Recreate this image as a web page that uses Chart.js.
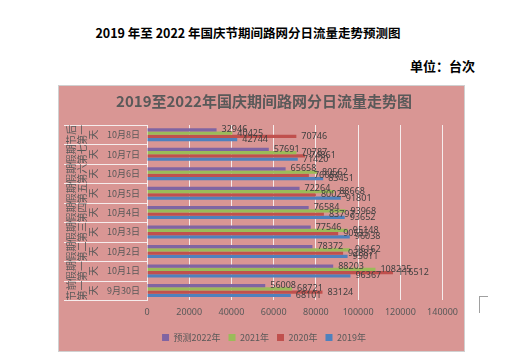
<!DOCTYPE html>
<html><head><meta charset="utf-8">
<script src="https://cdn.jsdelivr.net/npm/chart.js@4"></script>
<style>
html,body{margin:0;padding:0;background:#fff;width:529px;height:362px;overflow:hidden;}
#t1{position:absolute;left:0;width:496px;top:23px;text-align:center;font:bold 12.5px 'Noto Sans CJK SC',sans-serif;color:#000;white-space:nowrap;}
#t2{position:absolute;left:410px;top:56px;font:bold 13px 'Noto Sans CJK SC',sans-serif;color:#000;}
#box{position:absolute;left:58px;top:85px;width:407px;height:267px;background:#D99694;border:1px solid #D0D0D0;box-sizing:border-box;}
#c{position:absolute;left:58px;top:85px;}
#mark{position:absolute;left:479px;top:296px;width:8px;height:16px;border-left:1px solid #A0A0A0;border-top:1px solid #A0A0A0;}
</style></head>
<body>
<div id="t1">2019 年至 2022 年国庆节期间路网分日流量走势预测图</div>
<div id="t2">单位：台次</div>
<div id="box"></div>
<canvas id="c" width="407" height="267"></canvas>
<div id="mark"></div>
<script>
const categories = ['10月8日','10月7日','10月6日','10月5日','10月4日','10月3日','10月2日','10月1日','9月30日'];
const groups = ['节后第一天','假期第七天','假期第六天','假期第五天','假期第四天','假期第三天','假期第二天','假期第一天','节前第一天'];
const seriesNames = ['预测2022年','2021年','2020年','2019年'];
const v2022 = [32946,57691,65658,72264,76584,77546,78372,88203,56008];
const v2021 = [40425,70787,80562,88668,93968,95148,96162,108225,68721];
const v2020 = [70746,74861,76684,80023,83797,90555,92887,116512,83124];
const v2019 = [42744,71420,83451,91801,93652,96038,95011,96367,68101];
const xTicks = [0,20000,40000,60000,80000,100000,120000,140000];
const colors = ['#8064A2','#9BBB59','#C0504D','#4F81BD'];
const FONT = "'Noto Sans CJK SC','Noto Sans',sans-serif";
const GRID = 'rgba(248,240,240,0.95)';

const labelPlugin = {
  id:'labels',
  afterDatasetsDraw(chart){
    const ctx = chart.ctx;
    ctx.save();
    ctx.font = "9px 'Noto Sans',sans-serif";
    ctx.fillStyle = '#404040';
    ctx.textBaseline = 'middle';
    ctx.textAlign = 'left';
    chart.data.datasets.forEach((ds,i)=>{
      const meta = chart.getDatasetMeta(i);
      meta.data.forEach((el,j)=>{
        ctx.fillText(String(ds.data[j]), el.x + 5, el.y);
      });
    });
    ctx.restore();
  }
};
const groupPlugin = {
  id:'groups',
  afterDraw(chart){
    const ctx = chart.ctx;
    const ys = chart.scales.y;
    const area = chart.chartArea;
    const n = categories.length;
    const step = (area.bottom - area.top)/n;
    ctx.save();
    ctx.strokeStyle = GRID;
    ctx.lineWidth = 1;
    for(let i=0;i<=n;i++){
      const y = Math.round(area.top + i*step)+0.5;
      ctx.beginPath(); ctx.moveTo(6,y); ctx.lineTo(area.left,y); ctx.stroke();
    }
    ctx.fillStyle = '#595959';
    ctx.font = "10px " + FONT;
    ctx.textAlign = 'center';
    ctx.textBaseline = 'middle';
    const xs = [13, 24, 35];
    groups.forEach((g,i)=>{
      const cy = ys.getPixelForTick(i);
      const parts = [g.slice(0,2), g.slice(2,4), g.slice(4)];
      parts.forEach((p,k)=>{
        ctx.save();
        ctx.translate(xs[k], cy);
        ctx.rotate(-Math.PI/2);
        ctx.fillText(p, 0, 0);
        ctx.restore();
      });
    });
    ctx.restore();
  }
};

new Chart(document.getElementById('c'), {
  type:'bar',
  data:{
    labels: categories,
    datasets:[
      {label:seriesNames[0], data:v2022, backgroundColor:colors[0]},
      {label:seriesNames[1], data:v2021, backgroundColor:colors[1]},
      {label:seriesNames[2], data:v2020, backgroundColor:colors[2]},
      {label:seriesNames[3], data:v2019, backgroundColor:colors[3]}
    ]
  },
  options:{
    indexAxis:'y',
    responsive:false,
    animation:false,
    layout:{padding:{left:5,right:0,top:0,bottom:0}},
    datasets:{bar:{categoryPercentage:0.667, barPercentage:1.0}},
    scales:{
      x:{
        min:0, max:140000,
        afterBuildTicks(s){ s.ticks = xTicks.map(v=>({value:v})); },
        grid:{color:GRID, lineWidth:1, drawTicks:false},
        border:{display:false},
        ticks:{font:{size:9,family:"'Noto Sans',sans-serif"}, color:'#595959', padding:7, maxRotation:0,
          callback:(v)=>String(v)}
      },
      y:{
        grid:{display:false, drawTicks:false},
        border:{display:true, color:GRID},
        ticks:{font:{size:9,family:FONT}, color:'#595959', padding:7},
        afterFit(s){ s.width = 84; }
      }
    },
    plugins:{
      title:{display:true, text:'2019至2022年国庆期间路网分日流量走势图', color:'#595959',
        font:{size:15, weight:'bold', family:FONT}, padding:{top:7, bottom:15}},
      legend:{position:'bottom', labels:{boxWidth:7, boxHeight:7, color:'#595959', padding:8,
        font:{size:9, family:FONT}}},
      tooltip:{enabled:false}
    }
  },
  plugins:[labelPlugin, groupPlugin]
});
</script>
</body></html>
